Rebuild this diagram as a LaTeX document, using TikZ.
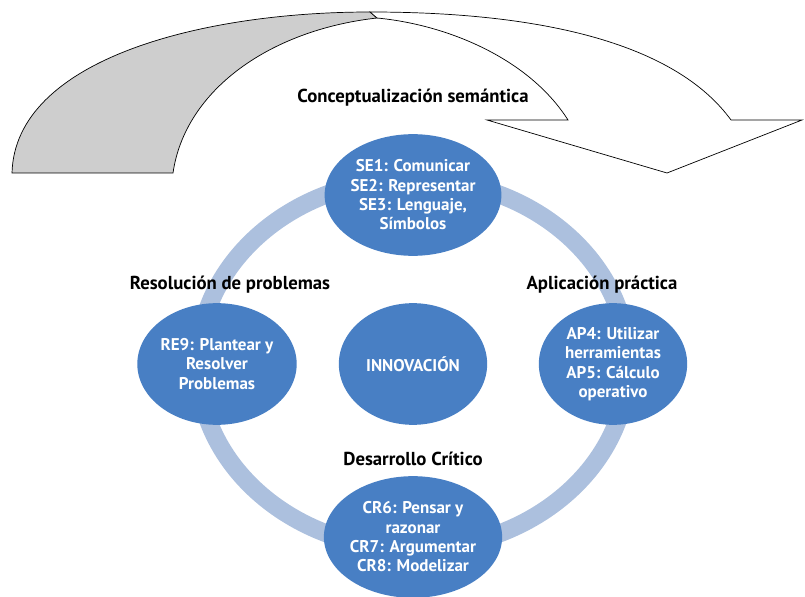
\documentclass[tikz,border=0pt]{standalone}
\usepackage{fontspec}
\setmainfont{PT Sans}
\usetikzlibrary{positioning, shapes.geometric, backgrounds}

\definecolor{discblue}{RGB}{72,127,196}
\definecolor{ringblue}{RGB}{172,192,222}
\definecolor{ribbongray}{RGB}{206,206,206}

\begin{document}
\begin{tikzpicture}[
	x=0.03cm, y=-0.03cm, % one unit = one pixel of the layout
	node distance=0.3cm,
	% Style for the blue discs
	disc/.style={
		ellipse,
		fill=discblue,
		text=white,
		minimum width=4.45cm,
		minimum height=3.65cm,
		inner sep=0pt,
		align=center,
		font=\bfseries\fontsize{14.5}{16.5}\selectfont
	},
	% Style for the black headings
	heading/.style={font=\bfseries\fontsize{16}{18}\selectfont, inner sep=1pt},
	% Ring and ribbon
	ring/.style={draw=ringblue, line width=0.54cm},
	ribbon/.style={draw=black, line width=0.6pt, line join=miter}
	]
	
	\useasboundingbox (0,0) rectangle (805,597);
	
	% --- RIBBON ARROW ---
	
	% Back side (gray)
	\filldraw[ribbon, fill=ribbongray] (12,173) .. controls (15,60) and (200,12) .. (370,12)
		-- (377,18) .. controls (270,30) and (185,90) .. (173,173) -- cycle;
	
	% Front side with arrow head
	\filldraw[ribbon, fill=white] (370,12) .. controls (560,12) and (680,50) .. (731,120)
		-- (802,120) -- (667,173) -- (487,120) -- (568,120)
		.. controls (530,60) and (450,25) .. (377,18) -- cycle;
	
	% --- DISCS ---
	
	\node[disc] (inno) at (413,364) {INNOVACIÓN};
	\node[disc] (se) at (413,195) {SE1: Comunicar\\SE2: Representar\\SE3: Lenguaje,\\Símbolos};
	\node[disc] (re) at (217,364) {RE9: Plantear y\\Resolver\\Problemas};
	\node[disc] (ap) at (613,364) {AP4: Utilizar\\herramientas\\AP5: Cálculo\\operativo};
	\node[disc] (cr) at (413,537) {CR6: Pensar y\\razonar\\CR7: Argumentar\\CR8: Modelizar};
	
	% --- HEADINGS ---
	
	\node[heading, above=0.8cm of se] (sem) {Conceptualización semántica};
	\node[heading, above=0.25cm of re, xshift=0.39cm] (res) {Resolución de problemas};
	\node[heading, above=0.25cm of ap, xshift=-0.33cm] (apl) {Aplicación práctica};
	\node[heading, above=0.25cm of cr] (des) {Desarrollo Crítico};
	
	% --- RING ---
	
	\begin{scope}[on background layer]
		\draw[ring] (inno.center) ellipse [x radius=6.45cm, y radius=5.55cm];
	\end{scope}
	
\end{tikzpicture}
\end{document}
